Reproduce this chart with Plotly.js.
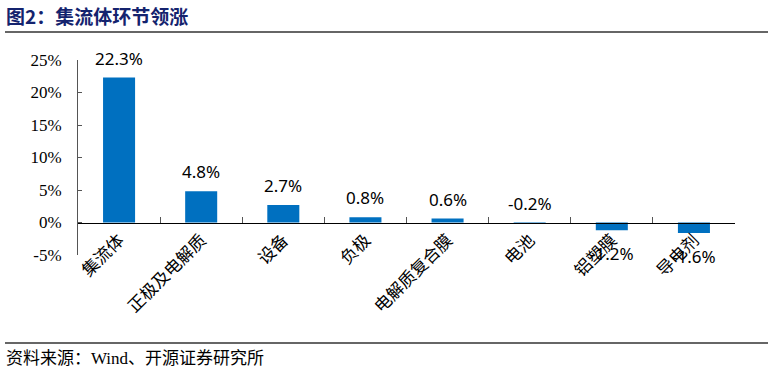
<!DOCTYPE html>
<html>
<head>
<meta charset="utf-8">
<script src="https://cdn.plot.ly/plotly-3.0.1.min.js"></script>
<style>html,body{margin:0;padding:0;background:#fff;}#chart{width:774px;height:374px;}</style>
</head>
<body>
<div id="chart"></div>
<script>
const categories = ["集流体", "正极及电解质", "设备", "负极", "电解质复合膜", "电池", "铝塑膜", "导电剂"];
const changes = [22.3, 4.8, 2.7, 0.8, 0.6, -0.2, -1.2, -1.6];
const yTicks = [-5, 0, 5, 10, 15, 20, 25];
const yTickLabels = ["-5%", "0%", "5%", "10%", "15%", "20%", "25%"];
const titleText = "图2：集流体环节领涨";
const sourceText = "资料来源：Wind、开源证券研究所";

// plot area in pixels: x 78..735, y 60..255
const L = 78, R = 735, T = 60, B = 255;
const px = x => (x - L) / (R - L);
const py = y => (B - y) / (B - T);

const labelFont = {family: "Noto Sans, Liberation Sans, sans-serif", size: 17, color: "#000"};
const annotations = changes.map((v, i) => {
  const above = v > -0.5;
  return {
    x: categories[i], y: above ? Math.max(v, 0) : v, xref: "x", yref: "y",
    text: v.toFixed(1) + "%", showarrow: false,
    yanchor: above ? "bottom" : "top", yshift: above ? 6 : -10,
    font: labelFont
  };
});
annotations.push({
  x: px(4), y: py(16), xref: "paper", yref: "paper", xanchor: "left", yanchor: "middle",
  text: "<b>" + titleText + "</b>", showarrow: false,
  font: {family: "Noto Sans CJK SC, sans-serif", size: 19, color: "#14236E"}
});
annotations.push({
  x: px(4), y: py(358), xref: "paper", yref: "paper", xanchor: "left", yanchor: "middle",
  text: sourceText, showarrow: false,
  font: {family: "Liberation Serif, Noto Sans CJK SC, serif", size: 17, color: "#000"}
});

const data = [{
  type: "bar", x: categories, y: changes,
  marker: {color: "#0070C0"}, hoverinfo: "x+y"
}];

const layout = {
  width: 774, height: 374,
  margin: {l: L, r: 774 - R, t: T, b: 374 - B, pad: 0},
  paper_bgcolor: "#fff", plot_bgcolor: "#fff",
  showlegend: false, bargap: 0.61,
  xaxis: {
    type: "category", range: [-0.5, categories.length - 0.5],
    anchor: "free", position: 5 / 30,
    showline: true, linecolor: "#000", linewidth: 1,
    ticks: "inside", tickson: "boundaries", ticklen: 6, tickcolor: "#555", tickwidth: 1,
    tickangle: -45, showgrid: false, zeroline: false,
    tickfont: {family: "Noto Sans CJK SC, serif", size: 17, color: "#000"}
  },
  yaxis: {
    range: [-5, 25], tickvals: yTicks, ticktext: yTickLabels,
    showline: true, linecolor: "#555", linewidth: 1,
    ticks: "inside", ticklen: 4, tickcolor: "#555",
    showgrid: false, zeroline: false, ticklabelstandoff: 12,
    tickfont: {family: "Liberation Serif, Times New Roman, serif", size: 17, color: "#000"}
  },
  shapes: [
    {type: "line", xref: "paper", yref: "paper", x0: px(5), x1: px(768), y0: py(32), y1: py(32), line: {color: "#333", width: 1.5}},
    {type: "line", xref: "paper", yref: "paper", x0: px(5), x1: px(768), y0: py(343), y1: py(343), line: {color: "#333", width: 1.5}}
  ],
  annotations: annotations
};

Plotly.newPlot("chart", data, layout, {displayModeBar: false, staticPlot: true});
</script>
</body>
</html>
